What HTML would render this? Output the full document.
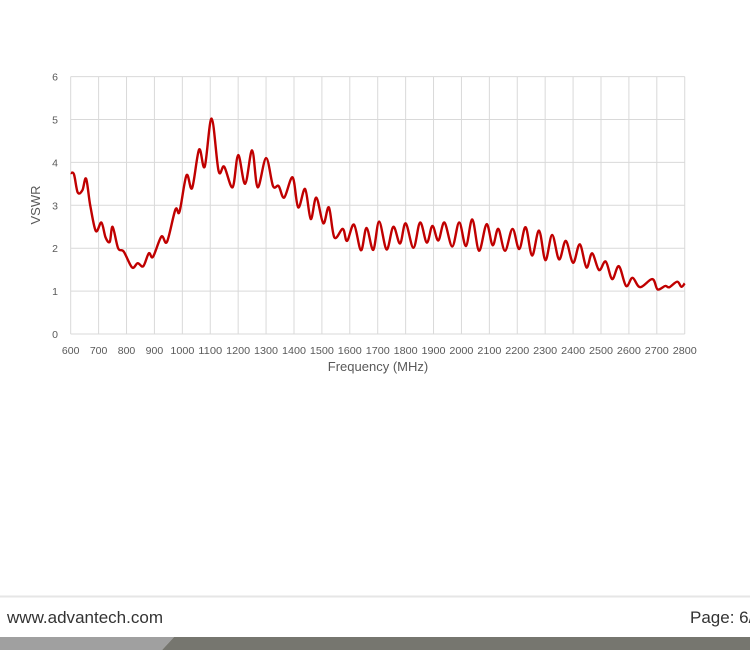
<!DOCTYPE html>
<html><head><meta charset="utf-8"><style>
body{margin:0;background:#fff;width:750px;height:650px;overflow:hidden;position:relative;font-family:"Liberation Sans",sans-serif}
svg text{font-family:"Liberation Sans",sans-serif;fill:#595959}
</style></head><body>
<svg width="750" height="650" style="position:absolute;left:0;top:0">
<g id="grid" stroke="#d9d9d9" stroke-width="1"></g>
<g id="lbl" font-size="10.5"></g>
<text x="378" y="371" font-size="13" text-anchor="middle">Frequency (MHz)</text>
<text x="0" y="0" font-size="13" text-anchor="middle" transform="translate(40,205) rotate(-90)">VSWR</text>
<path id="curve" fill="none" stroke="#c00000" stroke-width="2.4" stroke-linejoin="round"/>
<line x1="0" y1="596.5" x2="750" y2="596.5" stroke="#e6e6e6" stroke-width="2"/>
<text x="7" y="623" font-size="17" textLength="156" lengthAdjust="spacingAndGlyphs" style="fill:#333">www.advantech.com</text>
<text x="690" y="623" font-size="17" style="fill:#333">Page: 6/</text>
<polygon points="0,637 174,637 162,650 0,650" fill="#a0a0a0"/>
<polygon points="174,637 750,637 750,650 162,650" fill="#76766f"/>
</svg>
<script>
var X0=70.7,XS=0.2791,Y0=334,YS=42.9;
function fx(f){return X0+(f-600)*XS}function fy(v){return Y0-v*YS}
var g=document.getElementById('grid'),l=document.getElementById('lbl'),ns='http://www.w3.org/2000/svg';
function el(t,a,p,txt){var e=document.createElementNS(ns,t);for(var k in a)e.setAttribute(k,a[k]);if(txt!=null)e.textContent=txt;p.appendChild(e);}
for(var f=600;f<=2800;f+=100){var x=fx(f);el('line',{x1:x,y1:fy(6),x2:x,y2:fy(0)},g);var a={x:x,y:354,'text-anchor':'middle'};if(f>=1000){a.textLength=24;a.lengthAdjust='spacingAndGlyphs';}el('text',a,l,f);}
for(var v=0;v<=6;v++){var y=fy(v);el('line',{x1:fx(600),y1:y,x2:fx(2800),y2:y},g);el('text',{x:58,y:y+4,'text-anchor':'end'},l,v);}
var d=[[600,3.75],[612,3.72],[625,3.3],[642,3.35],[655,3.62],[670,3.0],[690,2.4],[710,2.6],[725,2.25],[740,2.15],[750,2.5],[770,2.0],[790,1.92],[820,1.55],[840,1.65],[860,1.58],[880,1.88],[895,1.8],[925,2.27],[945,2.15],[975,2.9],[990,2.85],[1015,3.7],[1035,3.4],[1060,4.3],[1080,3.9],[1105,5.02],[1130,3.8],[1150,3.9],[1180,3.42],[1200,4.17],[1225,3.5],[1250,4.28],[1270,3.42],[1300,4.1],[1325,3.45],[1345,3.45],[1365,3.18],[1395,3.65],[1415,2.95],[1440,3.38],[1460,2.68],[1480,3.18],[1505,2.58],[1525,2.95],[1545,2.25],[1575,2.45],[1590,2.17],[1615,2.55],[1640,1.95],[1660,2.47],[1684,1.96],[1705,2.62],[1732,1.97],[1756,2.5],[1780,2.11],[1800,2.58],[1828,2.01],[1852,2.6],[1876,2.13],[1896,2.52],[1917,2.18],[1939,2.6],[1967,2.04],[1992,2.6],[2016,2.05],[2039,2.67],[2063,1.94],[2090,2.56],[2112,2.07],[2132,2.45],[2156,1.94],[2183,2.45],[2207,1.98],[2230,2.49],[2253,1.83],[2278,2.41],[2301,1.72],[2325,2.31],[2350,1.74],[2374,2.17],[2400,1.66],[2424,2.09],[2448,1.55],[2468,1.88],[2493,1.49],[2517,1.69],[2540,1.28],[2564,1.58],[2590,1.12],[2613,1.31],[2640,1.09],[2684,1.28],[2703,1.04],[2730,1.12],[2745,1.09],[2773,1.22],[2788,1.1],[2800,1.18]];
var p=d.map(function(a){return [fx(a[0]),fy(a[1])]});
var s='M'+p[0][0].toFixed(1)+','+p[0][1].toFixed(1);
for(var i=0;i<p.length-1;i++){var p0=p[i>0?i-1:i],p1=p[i],p2=p[i+1],p3=p[i+2<p.length?i+2:i+1];
var c1=[p1[0]+(p2[0]-p0[0])/6,p1[1]+(p2[1]-p0[1])/6],c2=[p2[0]-(p3[0]-p1[0])/6,p2[1]-(p3[1]-p1[1])/6];
s+='C'+c1[0].toFixed(1)+','+c1[1].toFixed(1)+' '+c2[0].toFixed(1)+','+c2[1].toFixed(1)+' '+p2[0].toFixed(1)+','+p2[1].toFixed(1);}
document.getElementById('curve').setAttribute('d',s);
</script>
</body></html>
